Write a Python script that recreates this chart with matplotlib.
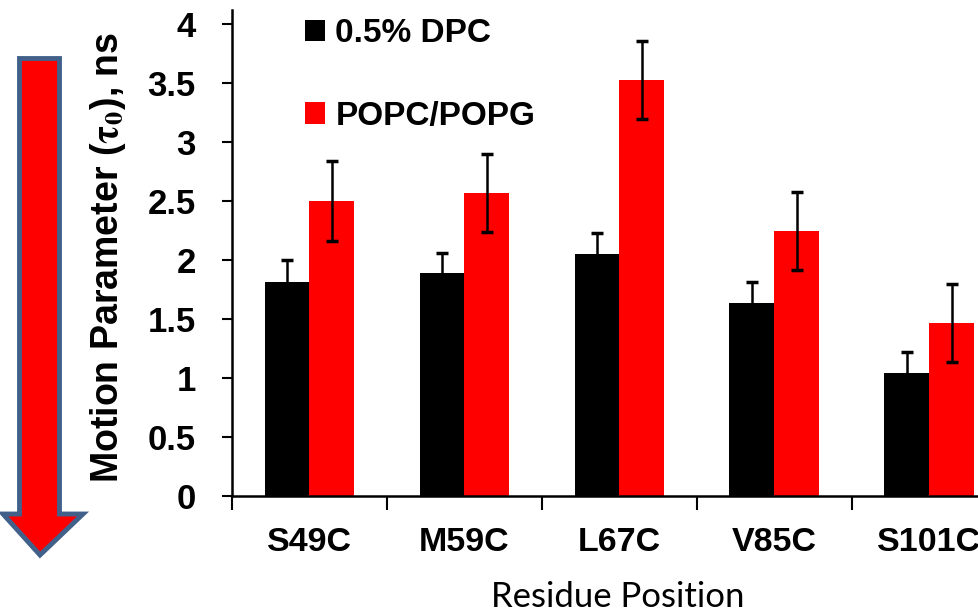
import matplotlib
matplotlib.use("Agg")
import matplotlib.pyplot as plt
from matplotlib.patches import Polygon
import numpy as np

residues = ["S49C", "M59C", "L67C", "V85C", "S101C"]
dpc = [1.81, 1.89, 2.05, 1.64, 1.04]
dpc_err = [0.19, 0.17, 0.18, 0.17, 0.18]
popc = [2.50, 2.57, 3.53, 2.25, 1.47]
popc_err = [0.34, 0.33, 0.33, 0.33, 0.33]
yticks = [0, 0.5, 1, 1.5, 2, 2.5, 3, 3.5, 4]

plt.rcParams['font.family'] = ['Liberation Sans', 'DejaVu Sans']
plt.rcParams['font.weight'] = 'bold'
plt.rcParams['mathtext.fontset'] = 'stix'

fig = plt.figure(figsize=(9.79, 6.09), dpi=100)
ax = fig.add_axes([232 / 979, 113 / 609, 747 / 979, 486 / 609])

x = np.arange(len(residues))
w = 0.29
ekw = dict(elinewidth=1.8, capsize=4, capthick=2.5, ecolor='black')
ax.bar(x - w / 2, dpc, w, color='black', yerr=dpc_err, error_kw=ekw, label='0.5% DPC')
ax.bar(x + w / 2, popc, w, color='#ff0000', yerr=popc_err, error_kw=ekw, label='POPC/POPG')

ax.set_xlim(-0.5, 4.32)
ax.set_ylim(0, 4.12)
ax.set_yticks(yticks)
ax.set_yticklabels([f"{t:g}" for t in yticks], fontsize=25, fontweight='bold')
ax.set_xticks(x)
ax.set_xticklabels(residues, fontsize=24.5, fontweight='bold')
ax.set_xticks(np.arange(-0.5, 4.5, 1), minor=True)
ax.tick_params(axis='x', which='major', length=0, pad=22)
ax.tick_params(axis='x', which='minor', length=10, width=1.5, direction='out')
ax.tick_params(axis='y', length=7, width=1.5, direction='out', pad=19)

for s in ['top', 'right']:
    ax.spines[s].set_visible(False)
for s in ['left', 'bottom']:
    ax.spines[s].set_linewidth(1.8)

ax.set_ylabel(r'Motion Parameter ($\mathrm{\tau_0}$), ns', fontsize=27, fontweight='bold')
ax.yaxis.set_label_coords(-0.139, 0.49)
# the reference picture crops this label at the bottom edge
ax.set_xlabel('Residue Position', fontsize=25, fontweight='normal', family='Lato', labelpad=17)
ax.xaxis.label.set_x(0.517)

ax.legend(loc='upper left', bbox_to_anchor=(0.058, 1.045), frameon=False,
          prop={'weight': 'bold', 'size': 24}, handlelength=0.6, handleheight=0.6,
          handletextpad=0.3, labelspacing=1.55)

# red downward arrow on the left
arrow = Polygon([(19.5, 58.5), (59.5, 58.5), (59.5, 514), (83, 514), (40, 555),
                 (3, 514), (19.5, 514)], closed=True, facecolor='#ff0000',
                edgecolor='#41618a', linewidth=3.5, transform=None)
pts = arrow.get_xy()
pts[:, 1] = 609 - pts[:, 1]
arrow.set_xy(pts)
fig.patches.append(arrow)

fig.savefig('out.png', dpi=100)
